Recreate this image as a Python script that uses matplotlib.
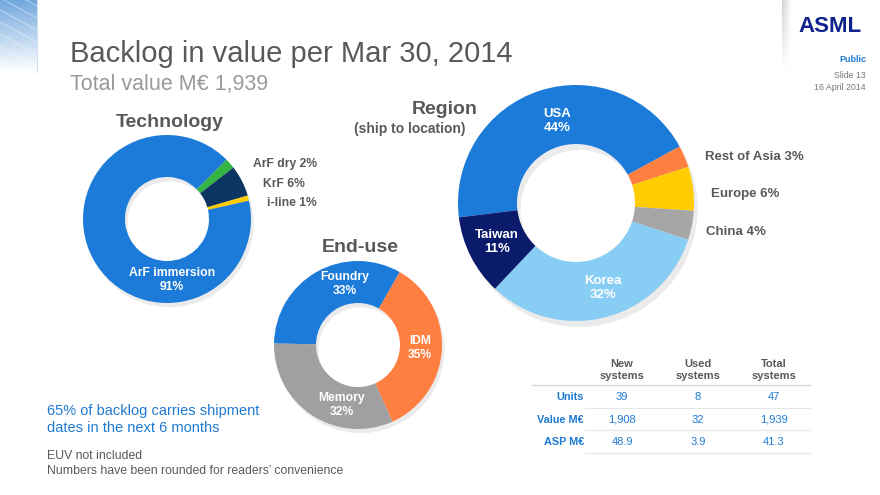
import numpy as np
import matplotlib.pyplot as plt

plt.rcParams['font.family'] = ['Liberation Sans', 'DejaVu Sans']

W, H = 880, 495

# --- data ---
tech_names = ['ArF dry', 'KrF', 'i-line', 'ArF immersion']
tech_pct = [2, 6, 1, 91]
tech_colors = ['#34B441', '#0D3562', '#FFCC00', '#1C7BD9']

region_names = ['USA', 'Rest of Asia', 'Europe', 'China', 'Korea', 'Taiwan']
region_pct = [44, 3, 6, 4, 32, 11]
region_colors = ['#1C7BD9', '#FF7F40', '#FFCC00', '#A6A6A6', '#88CDF4', '#0B1B6C']

enduse_names = ['Foundry', 'IDM', 'Memory']
enduse_pct = [33, 35, 32]
enduse_colors = ['#1C7BD9', '#FF7F40', '#A0A0A0']

table_cols = ['New\nsystems', 'Used\nsystems', 'Total\nsystems']
table_rows = ['Units', 'Value M€', 'ASP M€']
table_vals = [['39', '8', '47'],
              ['1,908', '32', '1,939'],
              ['48.9', '3.9', '41.3']]

grey = '#595959'
blue_txt = '#1F7AD2'

fig = plt.figure(figsize=(8.8, 4.95), dpi=100)


def donut(cx, cy, r, vals, cols, start):
    pad = 1.12
    ax = fig.add_axes([(cx - r * pad) / W, 1 - (cy + r * pad) / H,
                       2 * r * pad / W, 2 * r * pad / H])
    # soft shadow
    ax.pie(vals, colors=['#000000'] * len(vals), startangle=start, counterclock=False,
           radius=1.0, center=(0.03, -0.05),
           wedgeprops=dict(width=0.5, alpha=0.08, linewidth=0))
    ax.pie(vals, colors=cols, startangle=start, counterclock=False, radius=1.0,
           wedgeprops=dict(width=0.5, linewidth=0))
    ax.set_xlim(-pad, pad)
    ax.set_ylim(-pad, pad)
    ax.axis('off')
    return ax


donut(167, 219, 84, tech_pct, tech_colors, 45)
donut(576, 203, 118, region_pct, region_colors, 187)
donut(358, 345, 84, enduse_pct, enduse_colors, 179)

# overlay for text and decoration, pixel coords
ov = fig.add_axes([0, 0, 1, 1])
ov.axis('off')
ov.patch.set_alpha(0)
ov.set_zorder(10)

# top-left corner decoration
grad = np.linspace(0, 1, 100).reshape(-1, 1)
top = np.array([0.45, 0.66, 0.87])
img = top * (1 - grad[..., None]) + np.array([1.0, 1.0, 1.0]) * grad[..., None]
img = np.repeat(img, 2, axis=1)
ov.imshow(img, extent=[0, 37, 72, 0], aspect='auto', zorder=1)
for y0 in [-14, -2, 10, 22, 34, 46, 58]:
    ov.plot([0, 37], [y0, y0 + 20], color='white', lw=0.6, alpha=0.5, zorder=2)
ov.plot([37, 37], [0, 72], color='#D0DDEC', lw=0.8, zorder=2)

# faint shadow strip top right
sh = np.zeros((60, 10, 4))
sh[..., :3] = 0.5
xs = np.linspace(0.35, 0, 10)
ys = np.linspace(1, 0, 60).reshape(-1, 1)
sh[..., 3] = xs * ys
ov.imshow(sh, extent=[782, 792, 72, 0], aspect='auto', zorder=1)
ov.set_xlim(0, W)
ov.set_ylim(H, 0)

# titles
ov.text(70, 62, 'Backlog in value per Mar 30, 2014', fontsize=21, color=grey, va='baseline')
ov.text(70, 90, 'Total value M€ 1,939', fontsize=15.5, color='#9A9A9A', va='baseline')

ov.text(862, 32, 'ASML', fontsize=16, color='#10218B', fontweight='bold', ha='right', va='baseline')
ov.text(866, 60, 'Public', fontsize=6.5, color='#1F7AD2', fontweight='bold', ha='right', va='center')
ov.text(866, 76, 'Slide 13', fontsize=6.3, color='#777777', ha='right', va='center')
ov.text(866, 87, '16 April 2014', fontsize=6.3, color='#777777', ha='right', va='center')

# donut headings
ov.text(170, 127, 'Technology', fontsize=14, fontweight='bold', color=grey, ha='center', va='baseline')
ov.text(445, 114, 'Region', fontsize=14, fontweight='bold', color=grey, ha='center', va='baseline')
ov.text(410, 133, '(ship to location)', fontsize=10, fontweight='bold', color=grey, ha='center', va='baseline')
ov.text(360, 252, 'End-use', fontsize=14, fontweight='bold', color=grey, ha='center', va='baseline')

# technology labels
tech_pos = [(253, 164, 'left', grey), (263, 184, 'left', grey), (267, 203, 'left', grey),
            (172, 280, 'center', 'white')]
for n, p, (x, y, ha, c) in zip(tech_names, tech_pct, tech_pos):
    s = f'{n}\n{p}%' if c == 'white' else f'{n} {p}%'
    ov.text(x, y, s, fontsize=8.7, fontweight='bold', color=c, ha=ha, va='center',
            linespacing=1.15)

# region labels
region_pos = [(557, 121, 'center', 'white'), (705, 157, 'left', grey), (711, 194, 'left', grey),
              (706, 232, 'left', grey), (603, 288, 'center', 'white'), (497, 242, 'center', 'white')]
for n, p, (x, y, ha, c) in zip(region_names, region_pct, region_pos):
    s = f'{n}\n{p}%' if c == 'white' else f'{n} {p}%'
    ov.text(x, y, s, fontsize=9.5, fontweight='bold', color=c, ha=ha, va='center',
            linespacing=1.15)

# end-use labels
enduse_pos = [(345, 284), (420, 348), (342, 405)]
for n, p, (x, y) in zip(enduse_names, enduse_pct, enduse_pos):
    ov.text(x, y, f'{n}\n{p}%', fontsize=8.7, fontweight='bold', color='white',
            ha='center', va='center', linespacing=1.15)

# table
col_x = [622, 698, 774]
row_y = [397, 420, 442]
for x, c in zip(col_x, table_cols):
    ov.text(x, 370, c, fontsize=8, fontweight='bold', color=grey, ha='center', va='center',
            linespacing=1.3)
ov.plot([532, 810], [385, 385], color='#D9D9D9', lw=1)
for y in [408, 430, 453]:
    ov.plot([585, 810], [y, y], color='#E6E6E6', lw=0.8)
for y, rname, vals in zip(row_y, table_rows, table_vals):
    ov.text(584, y, rname, fontsize=7.8, fontweight='bold', color=blue_txt, ha='right', va='center')
    for x, v in zip(col_x, vals):
        ov.text(x, y, v, fontsize=8, color=blue_txt, ha='center', va='center')

# footnotes
ov.text(47, 411, '65% of backlog carries shipment', fontsize=10.5, color=blue_txt, va='center')
ov.text(47, 428, 'dates in the next 6 months', fontsize=10.5, color=blue_txt, va='center')
ov.text(47, 456, 'EUV not included', fontsize=8.8, color=grey, va='center')
ov.text(47, 471, 'Numbers have been rounded for readers’ convenience', fontsize=8.8, color=grey, va='center')

fig.savefig('out.png', dpi=100)
